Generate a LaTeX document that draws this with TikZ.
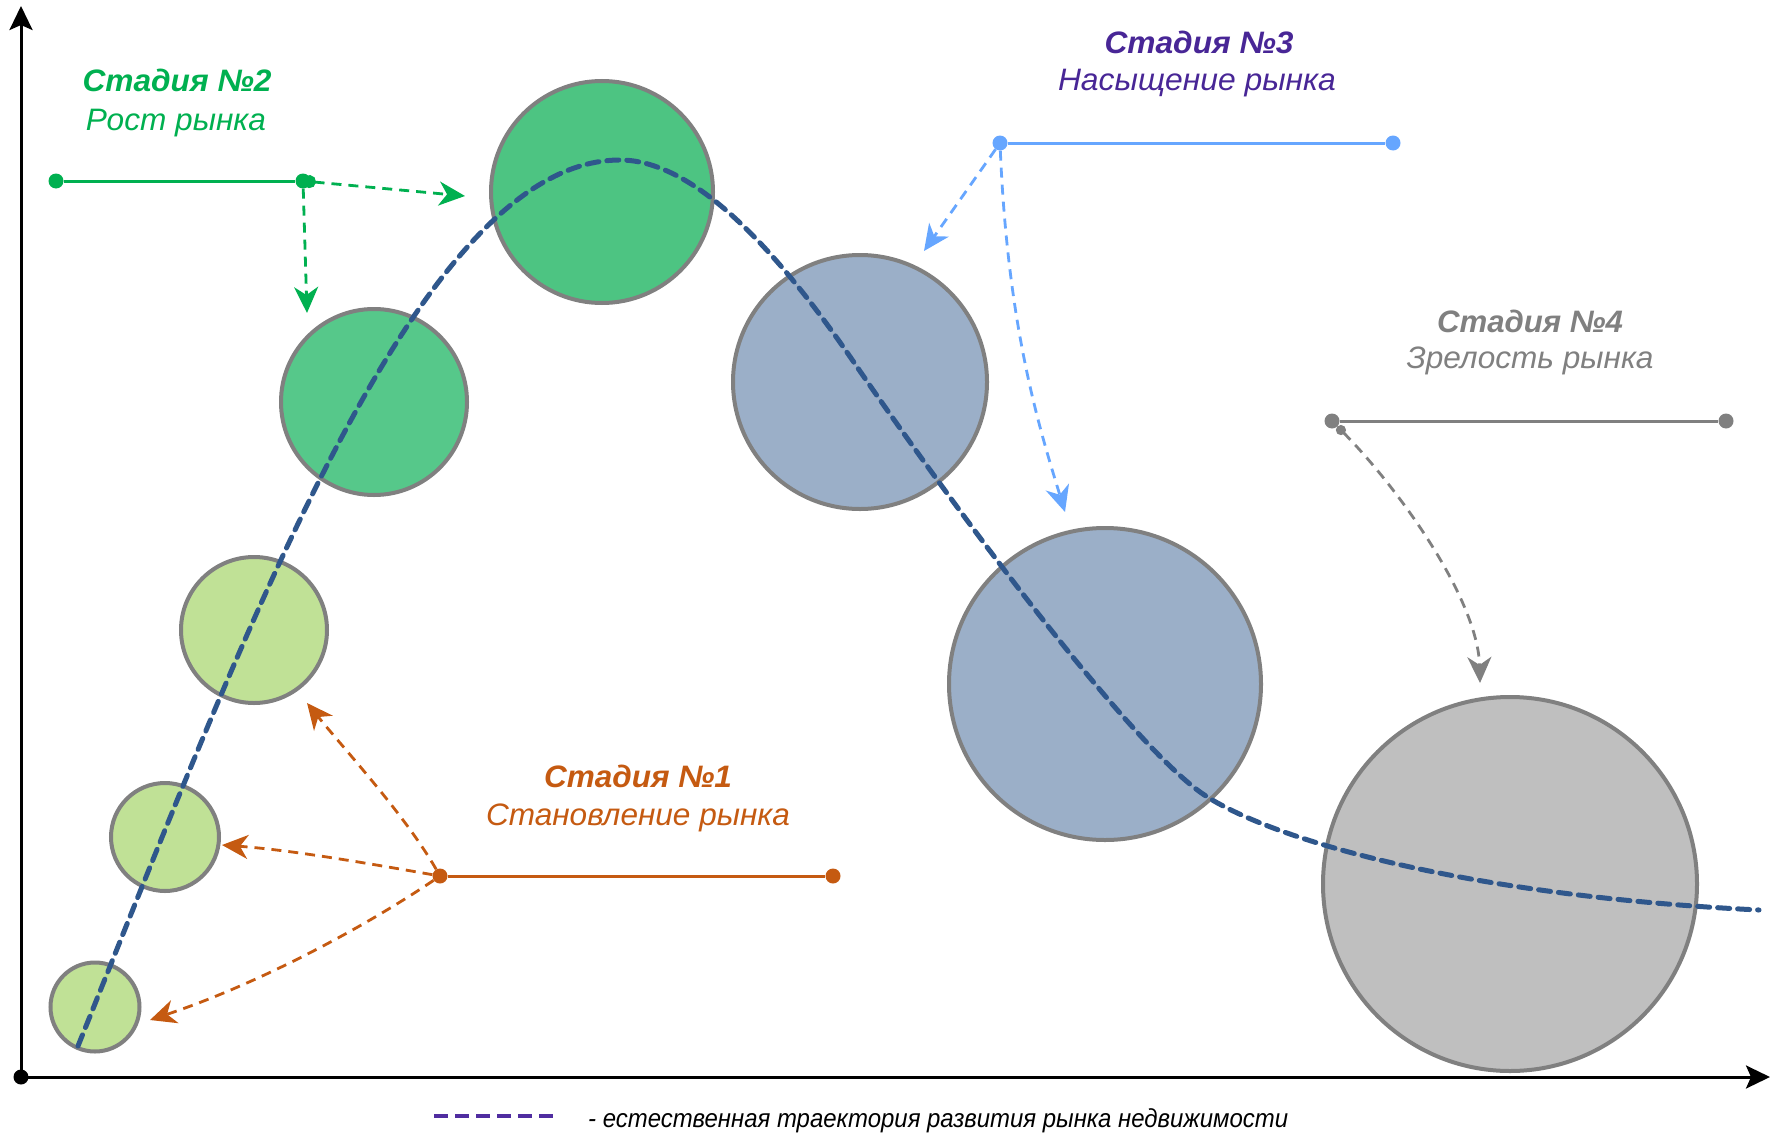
\documentclass[tikz,border=0pt]{standalone}
\usepackage{fontspec}
\setmainfont{Liberation Sans}
\usepackage{graphicx}
\usetikzlibrary{arrows.meta}
\definecolor{grn}{RGB}{0,176,80}
\definecolor{blu}{RGB}{102,166,255}
\definecolor{pur}{RGB}{72,38,150}
\definecolor{legpur}{RGB}{80,45,160}
\definecolor{ora}{RGB}{197,90,17}
\definecolor{gry}{RGB}{128,128,128}
\definecolor{bord}{RGB}{128,128,128}
\definecolor{lgf}{RGB}{192,225,150}
\definecolor{gf}{RGB}{77,196,130}
\definecolor{gf2}{RGB}{86,200,138}
\definecolor{bgf}{RGB}{155,175,200}
\definecolor{gyf}{RGB}{191,191,191}
\definecolor{traj}{RGB}{47,87,140}
\newcommand{\fitw}[2]{\resizebox{#1}{\height}{#2}}
\newcommand{\stghead}{\fontsize{31}{36}\selectfont\bfseries\itshape}
\newcommand{\stgsub}{\fontsize{31}{36}\selectfont\itshape}
\tikzset{
  bub/.style={circle, draw=bord, line width=4pt, inner sep=0pt},
  dotn/.style={circle, inner sep=0pt, minimum size=15pt, fill=#1},
  stline/.style={line width=3pt},
  darr/.style={dashed, line width=2.8pt, dash pattern=on 10pt off 7pt,
     -{Stealth[length=26pt,width=24pt,inset=8pt]}},
  lbl/.style={inner sep=0pt, anchor=base},
  axis/.style={line width=3pt, -{Stealth[length=24pt,width=23pt,inset=5pt]}},
}
\begin{document}
\begin{tikzpicture}[x=1pt,y=-1pt]
\useasboundingbox[fill=white] (0,0) rectangle (1771,1132);

% axes
\node[dotn=black, minimum size=15pt] (O) at (21,1077) {};
\coordinate (yt) at (21,6);
\coordinate (xt) at (1770,1077);
\draw[axis] (O.center) -- (yt);
\draw[axis] (O.center) -- (xt);

% circles
\node[bub, fill=lgf, minimum size=89pt]  (c1) at (95,1007) {};
\node[bub, fill=lgf, minimum size=108pt] (c2) at (165,837) {};
\node[bub, fill=lgf, minimum size=146pt] (c3) at (254,630) {};
\node[bub, fill=gf2, minimum size=186pt] (c4) at (374,402) {};
\node[bub, fill=gf,  minimum size=222pt] (c5) at (602,192) {};
\node[bub, fill=bgf, minimum size=254pt] (c6) at (860,382) {};
\node[bub, fill=bgf, minimum size=312pt] (c7) at (1105,684) {};
\node[bub, fill=gyf, minimum size=374pt] (c8) at (1510,884) {};

% trajectory
\coordinate (t0) at (78,1046);
\coordinate (t1) at (620,160);
\coordinate (t2) at (853,361);
\coordinate (t3) at (1200,792);
\coordinate (t4) at (1759,910);
\draw[traj, line width=5pt, dash pattern=on 12pt off 8pt, line cap=round]
  (t0) .. controls (250,620) and (420,160) .. (t1)
       .. controls (690,160) and (770,240) .. (t2)
       .. controls (920,459) and (1115,730) .. (t3)
       .. controls (1260,835) and (1450,895) .. (t4);

% stage 2
\node[lbl, text=grn] (s2a) at (177,92) {\fitw{189pt}{\stghead Стадия №2}};
\node[lbl, text=grn] (s2b) at (176,130) {\fitw{180pt}{\stgsub Рост рынка}};
\node[dotn=grn] (g1) at (56,181) {};
\node[dotn=grn] (g2) at (303,181) {};
\draw[grn, stline] (g1) -- (g2);
\coordinate (gA) at (465,196);
\coordinate (gB) at (307,313);
\draw[darr, grn, {Circle[length=13pt]}-{Stealth[length=26pt,width=24pt,inset=8pt]}] (g2.center) -- (gA);
\draw[darr, grn] (g2) -- (gB);

% stage 3
\node[lbl, text=pur] (s3a) at (1199,53) {\fitw{189pt}{\stghead Стадия №3}};
\node[lbl, text=pur] (s3b) at (1197,91) {\fitw{278pt}{\stgsub Насыщение рынка}};
\node[dotn=blu] (b1) at (1000,143) {};
\node[dotn=blu] (b2) at (1393,143) {};
\draw[blu, stline] (b1) -- (b2);
\coordinate (bA) at (924,251);
\coordinate (bB) at (1065,512);
\draw[darr, blu] (b1) -- (bA);
\draw[darr, blu] (b1) .. controls (1008,330) and (1040,430) .. (bB);

% stage 4
\node[lbl, text=gry] (s4a) at (1530,332) {\fitw{186pt}{\stghead Стадия №4}};
\node[lbl, text=gry] (s4b) at (1530,368) {\fitw{247pt}{\stgsub Зрелость рынка}};
\node[dotn=gry] (k1) at (1332,421) {};
\node[dotn=gry] (k2) at (1726,421) {};
\draw[gry, stline] (k1) -- (k2);
\coordinate (kA) at (1480,683);
\draw[darr, gry, {Circle[length=10pt]}-{Stealth[length=26pt,width=24pt,inset=8pt]}] (k1) .. controls (1400,490) and (1478,600) .. (kA);

% stage 1
\node[lbl, text=ora] (s1a) at (638,787) {\fitw{188pt}{\stghead Стадия №1}};
\node[lbl, text=ora] (s1b) at (638,825) {\fitw{304pt}{\stgsub Становление рынка}};
\node[dotn=ora] (o1) at (440,876) {};
\node[dotn=ora] (o2) at (833,876) {};
\draw[ora, stline] (o1) -- (o2);
\coordinate (oA) at (307,703);
\coordinate (oB) at (222,845);
\coordinate (oC) at (150,1020);
\draw[darr, ora] (o1) .. controls (405,815) and (345,750) .. (oA);
\draw[darr, ora] (o1) .. controls (360,862) and (290,850) .. (oB);
\draw[darr, ora] (o1) .. controls (360,930) and (255,985) .. (oC);

% legend
\coordinate (l1) at (434,1116);
\coordinate (l2) at (557,1116);
\draw[legpur, line width=3.5pt, dash pattern=on 13.5pt off 7.5pt] (l1) -- (l2);
\node[inner sep=0pt, anchor=base west] (leg) at (588,1127) {\fitw{700pt}{\fontsize{26}{30}\selectfont\itshape - естественная траектория развития рынка недвижимости}};
\end{tikzpicture}
\end{document}
